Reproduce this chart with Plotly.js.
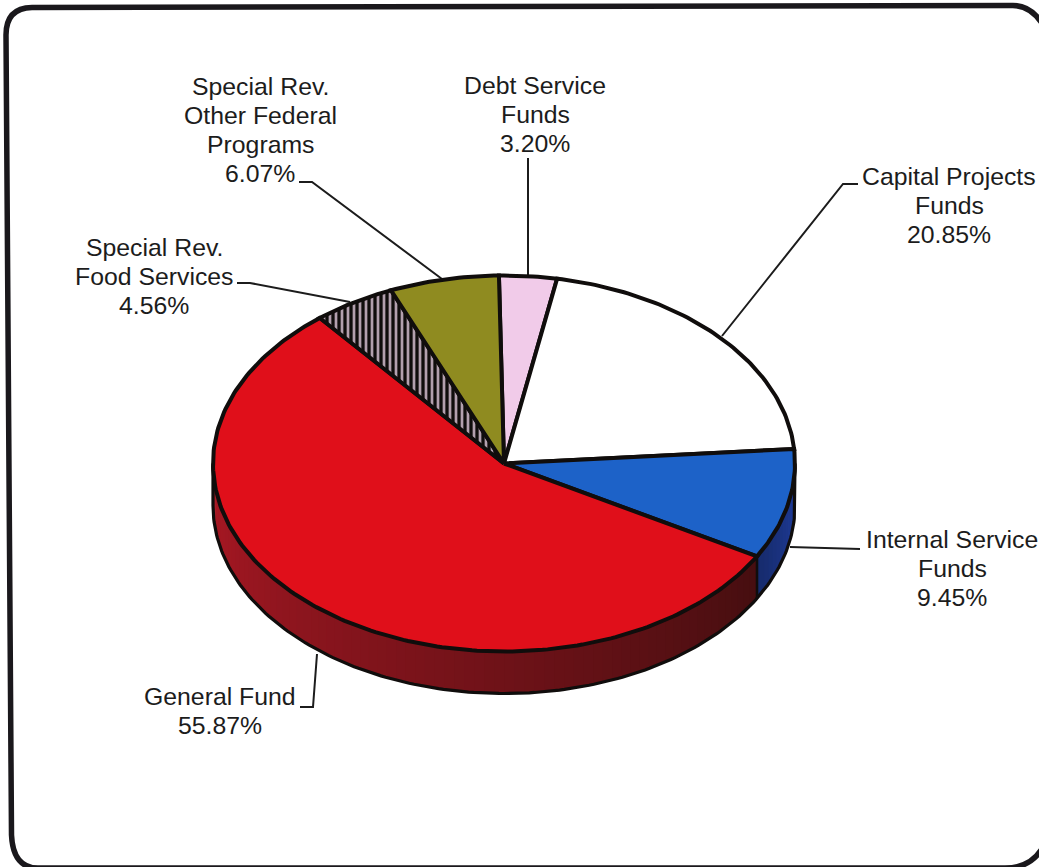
<!DOCTYPE html>
<html>
<head>
<meta charset="utf-8">
<script src="https://cdn.plot.ly/plotly-3.0.1.min.js"></script>
<style>html,body{margin:0;padding:0;background:#fff}#chart{width:1039px;height:867px}</style>
</head>
<body>
<div id="chart"></div>
<script>
// ---- data (clockwise from the top) ----
const categories = ["Debt Service Funds","Capital Projects Funds","Internal Service Funds","General Fund","Special Rev. Food Services","Special Rev. Other Federal Programs"];
const percentValues = [3.20,20.85,9.45,55.87,4.56,6.07];
const sliceColors = ["#f1cbe9","#ffffff","#1d62c8","#e00f1a","#b3a0ae","#8f8b20"];
const labelLines = [["Debt Service","Funds"],["Capital Projects","Funds"],["Internal Service","Funds"],["General Fund"],["Special Rev.","Food Services"],["Special Rev.","Other Federal","Programs"]];
const labelCenterX = [535,949,952,220,154,260];
const labelFirstLineY = [85.5,176.5,539.5,696.5,247,86];

// ---- pie geometry (pixels on the page-sized axes) ----
const cx=504, cy=463.5, rx=291, ry=188, depth=42, startDeg=-1, lineH=29.2;
const INK="#100d0c";
const pt=(deg,dy=0)=>{const a=deg*Math.PI/180;return [cx+rx*Math.sin(a),cy-ry*Math.cos(a)+dy];};
const arc=(a,b,dy=0)=>{const n=Math.max(2,Math.ceil(Math.abs(b-a)));const o=[];for(let i=0;i<=n;i++)o.push(pt(a+(b-a)*i/n,dy));return o;};
const mix=(c1,c2,t)=>"rgb("+c1.map((v,i)=>Math.round(v+(c2[i]-v)*t)).join(",")+")";

const bounds=[startDeg];
percentValues.forEach(v=>bounds.push(bounds[bounds.length-1]+v*3.6));

const traces=[];
// side wall: only the front half (90deg to 270deg) is visible
function wallStrips(name,a,b,c1,c2){
  const step=2,n=Math.ceil((b-a)/step);
  for(let i=n-1;i>=0;i--){
    const s=a+(b-a)*i/n,e=a+(b-a)*(i+1)/n,col=mix(c1,c2,(i+.5)/n);
    const poly=arc(s,Math.max(e,s)+(i<n-1?1:0),0).concat(arc(Math.max(e,s)+(i<n-1?1:0),s,depth));
    traces.push({type:"scatter",mode:"lines",x:poly.map(p=>p[0]),y:poly.map(p=>p[1]),fill:"toself",fillcolor:col,line:{width:0},hoverinfo:"skip",showlegend:false,name:name});
  }
}
const internalEnd=bounds[3], generalEnd=bounds[4];
wallStrips("Internal Service Funds wall",90,internalEnd,[32,62,160],[22,42,105]);
wallStrips("General Fund wall",internalEnd,generalEnd>270?270:generalEnd,[70,14,16],[172,24,36]);

// wall outlines
const wallEdge=[pt(90)].concat(arc(90,270,depth)).concat([pt(270)]);
traces.push({type:"scatter",mode:"lines",x:wallEdge.map(p=>p[0]),y:wallEdge.map(p=>p[1]),line:{color:INK,width:3.2},hoverinfo:"skip",showlegend:false});
const seam=[pt(internalEnd),pt(internalEnd,depth)];
traces.push({type:"scatter",mode:"lines",x:seam.map(p=>p[0]),y:seam.map(p=>p[1]),line:{color:INK,width:2.5},hoverinfo:"skip",showlegend:false});

// top face
categories.forEach((c,i)=>{
  const poly=[[cx,cy]].concat(arc(bounds[i],bounds[i+1])).concat([[cx,cy]]);
  const t={type:"scatter",mode:"lines",x:poly.map(p=>p[0]),y:poly.map(p=>p[1]),fill:"toself",fillcolor:sliceColors[i],
    line:{color:INK,width:4,shape:"linear"},name:c,text:percentValues[i].toFixed(2)+"%",hoverinfo:"name+text",showlegend:false};
  if(c==="Special Rev. Food Services"){t.fillpattern={shape:"|",bgcolor:sliceColors[i],fgcolor:INK,size:6,solidity:.55};}
  traces.push(t);
});

// labels
const annotations=[];
categories.forEach((c,i)=>{
  const lines=labelLines[i].concat([percentValues[i].toFixed(2)+"%"]);
  lines.forEach((txt,k)=>annotations.push({x:labelCenterX[i],y:labelFirstLineY[i]+k*lineH,text:txt,showarrow:false,xanchor:"center",yanchor:"middle",
    font:{family:"Liberation Sans, Arial, sans-serif",size:24.8,color:"#1c1c1c"}}));
});

// leader lines and frame
const leaderPaths=[
  "M528,158 L528,276",
  "M858,184 L843,184 L722,336",
  "M860,549 L790,547",
  "M300,707 L313,707 L317,654",
  "M237,283 L250,283 L350,302",
  "M299,182 L312,182 L442,279"
];
const shapes=leaderPaths.map(p=>({type:"path",path:p,layer:"below",line:{color:"#1c1c1c",width:2}}));
shapes.push({type:"path",layer:"below",line:{color:"#1a181c",width:5.5},
  path:"M32,7.5 L1012,5.5 Q1033,5 1046,30 L1048,835 Q1038,868 1005,868 L38,868 Q13,868 11.5,835 L6,35 Q6,8 32,7.5 Z"});

Plotly.newPlot("chart",traces,{
  width:1039,height:867,margin:{l:0,r:0,t:0,b:0},paper_bgcolor:"#fff",plot_bgcolor:"#fff",showlegend:false,
  xaxis:{range:[0,1039],visible:false,fixedrange:true},
  yaxis:{range:[867,0],visible:false,fixedrange:true},
  annotations:annotations,shapes:shapes
},{displayModeBar:false,responsive:false});
</script>
</body>
</html>
